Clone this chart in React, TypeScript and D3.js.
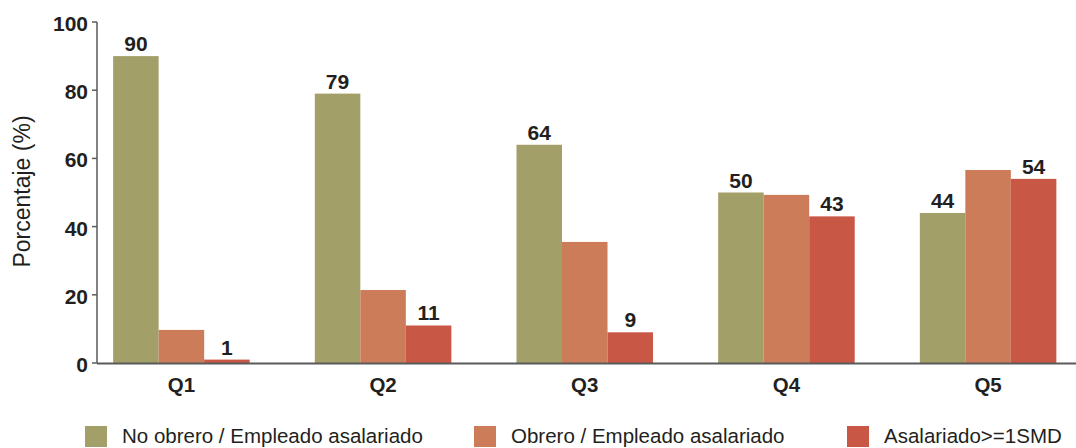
import React from "react";
import * as d3 from "d3";

const categories = ["Q1", "Q2", "Q3", "Q4", "Q5"];
const seriesNames = [
  "No obrero / Empleado asalariado",
  "Obrero / Empleado asalariado",
  "Asalariado>=1SMD",
];
const noObrero = [90, 79, 64, 50, 44];
const obrero = [9.7, 21.4, 35.5, 49.3, 56.6];
const asalariado = [1, 11, 9, 43, 54];
const showLabel = [true, false, true];
const colors = ["#A39F69", "#CC7C59", "#C95745"];
const yTicks = [0, 20, 40, 60, 80, 100];

const W = 1076;
const H = 448;
const FONT = "'Liberation Sans', Arial, Helvetica, sans-serif";

export default function App() {
  const series = [noObrero, obrero, asalariado];
  const y = d3.scaleLinear().domain([0, 100]).range([363, 22]);
  const x0 = d3
    .scaleBand<string>()
    .domain(categories)
    .range([97, 1072.5])
    .paddingInner(0.323)
    .paddingOuter(0.08);
  const x1 = d3
    .scaleBand<number>()
    .domain([0, 1, 2])
    .range([0, x0.bandwidth()]);

  const legendX = [85, 474, 847];

  return (
    <div style={{ position: "absolute", left: 0, top: 0 }}>
      <svg width={W} height={H} style={{ display: "block", fontFamily: FONT }}>
        <rect x={0} y={0} width={W} height={H} fill="#fff" />
        {/* bars */}
        {categories.map((c, i) => (
          <g key={c} transform={`translate(${x0(c)},0)`}>
            {series.map((s, k) => (
              <rect
                key={k}
                x={x1(k)}
                y={y(s[i])}
                width={x1.bandwidth()}
                height={y(0) - y(s[i])}
                fill={colors[k]}
              />
            ))}
            {series.map((s, k) =>
              showLabel[k] ? (
                <text
                  key={"l" + k}
                  x={(x1(k) as number) + x1.bandwidth() / 2}
                  y={y(s[i]) - 5}
                  textAnchor="middle"
                  fontSize={21}
                  fontWeight="bold"
                  fill="#231f20"
                >
                  {Math.round(s[i])}
                </text>
              ) : null
            )}
          </g>
        ))}
        {/* y axis */}
        <line x1={97} x2={97} y1={y(100)} y2={y(0)} stroke="#5a5a5a" strokeWidth={1.5} />
        {yTicks.map((t) => (
          <g key={t}>
            <line x1={92} x2={97} y1={y(t)} y2={y(t)} stroke="#5a5a5a" strokeWidth={1.5} />
            <text
              x={88}
              y={y(t) + 9}
              textAnchor="end"
              fontSize={21}
              fontWeight="bold"
              fill="#231f20"
            >
              {t}
            </text>
          </g>
        ))}
        <text
          transform={`translate(30,191.5) rotate(-90)`}
          textAnchor="middle"
          fontSize={23}
          fill="#231f20"
        >
          Porcentaje (%)
        </text>
        {/* x axis */}
        <line x1={97} x2={W} y1={y(0) + 0.5} y2={y(0) + 0.5} stroke="#5a5a5a" strokeWidth={2} />
        {categories.map((c) => (
          <text
            key={c}
            x={(x0(c) as number) + x0.bandwidth() / 2}
            y={392}
            textAnchor="middle"
            fontSize={20.5}
            fontWeight="bold"
            fill="#231f20"
          >
            {c}
          </text>
        ))}
        {/* legend */}
        {seriesNames.map((n, k) => (
          <g key={n}>
            <rect x={legendX[k]} y={426} width={22} height={21} fill={colors[k]} />
            <text x={legendX[k] + 37} y={443} fontSize={20.5} fill="#231f20">
              {n}
            </text>
          </g>
        ))}
      </svg>
    </div>
  );
}
